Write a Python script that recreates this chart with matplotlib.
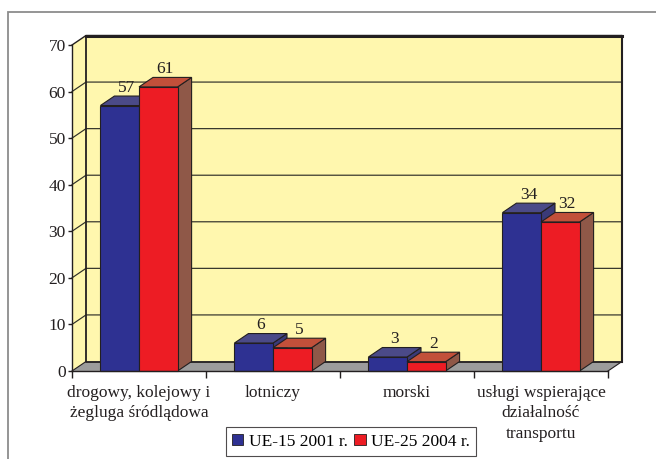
import matplotlib
matplotlib.use("Agg")
import matplotlib.pyplot as plt
from matplotlib.patches import Polygon, Rectangle, Patch

plt.rcParams['font.family'] = ['Liberation Serif', 'DejaVu Serif']

# --- data -------------------------------------------------------------
categories = ["drogowy, kolejowy i\nżegluga śródlądowa",
              "lotniczy",
              "morski",
              "usługi wspierające\ndziałalność\ntransportu"]
series_names = ["UE-15 2001 r.", "UE-25 2004 r."]
ue15_2001 = [57, 6, 3, 34]
ue25_2004 = [61, 5, 2, 32]
y_ticks = [0, 10, 20, 30, 40, 50, 60, 70]

# --- style ------------------------------------------------------------
W, H = 656, 459
front = dict(blue="#2E3192", red="#ED1C24")
top = dict(blue="#4B4A88", red="#C2503A")
side = dict(blue="#3B3A78", red="#8F5848")
wall_c = "#FFF7AE"
floor_c = "#9C9C9C"
edge_c = "#231F20"

fig = plt.figure(figsize=(W / 100, H / 100), dpi=100)

# outer gray frame
fig.add_artist(Rectangle((8 / W, -0.2), 1.5, 1.2 - 12 / H,
                         transform=fig.transFigure, fill=False,
                         edgecolor="#8C8C8C", linewidth=1.3))

# front plane of the 3D box
x0p, x1p, y0p, y1p = 72, 608, 371, 45
ax = fig.add_axes([x0p / W, 1 - y0p / H, (x1p - x0p) / W, (y0p - y1p) / H])
ax.set_xlim(0, 4)
ax.set_ylim(0, 70)
ax.patch.set_visible(False)

# depth offset in data units
DX = 14 / (x1p - x0p) * 4
DY = 9.5 / (y0p - y1p) * 70
YMAX = 70
N = len(categories)


def poly(pts, fc, ec=edge_c, lw=0.8, z=1):
    p = Polygon(pts, closed=True, facecolor=fc, edgecolor=ec,
                linewidth=lw, clip_on=False, zorder=z, joinstyle="miter")
    ax.add_patch(p)


# walls and floor
poly([(DX, DY), (N + DX, DY), (N + DX, YMAX + DY), (DX, YMAX + DY)],
     wall_c, ec="none", z=0.5)
poly([(0, 0), (0, YMAX), (DX, YMAX + DY), (DX, DY)], wall_c, ec="none", z=0.5)
poly([(0, 0), (N, 0), (N + DX, DY), (DX, DY)], floor_c, ec="none", z=0.6)

# gridlines on back and side walls
for v in y_ticks[1:-1]:
    ax.plot([0, DX, N + DX], [v, v + DY, v + DY], color="#2F2F28",
            linewidth=0.85, clip_on=False, zorder=0.7)

# box edges
ax.plot([0, DX, N + DX, N + DX], [YMAX, YMAX + DY, YMAX + DY, DY],
        color=edge_c, linewidth=1.0, clip_on=False, zorder=0.8)
ax.plot([DX, N + DX], [YMAX + DY, YMAX + DY], color=edge_c,
        linewidth=2.2, clip_on=False, zorder=0.8)
ax.plot([N + DX, N + DX], [YMAX + DY, DY], color=edge_c,
        linewidth=1.5, clip_on=False, zorder=0.8)
ax.plot([DX, DX, N + DX], [YMAX + DY, DY, DY], color=edge_c,
        linewidth=1.3, clip_on=False, zorder=0.8)
ax.plot([0, DX], [0, DY], color=edge_c, linewidth=0.8, clip_on=False, zorder=0.8)
ax.plot([N, N + DX], [0, DY], color=edge_c, linewidth=0.8, clip_on=False, zorder=0.8)

# bars
bw = 0.288


def bar3d(x0, v, key, z):
    x1 = x0 + bw
    poly([(x1, 0), (x1 + DX, DY), (x1 + DX, v + DY), (x1, v)], side[key], z=z)
    poly([(x0, v), (x1, v), (x1 + DX, v + DY), (x0 + DX, v + DY)], top[key], z=z)
    poly([(x0, 0), (x1, 0), (x1, v), (x0, v)], front[key], z=z)
    ax.annotate(f"{v}", xy=(x0 + bw / 2 + DX / 2, v + DY), xytext=(0, 0.3),
                textcoords="offset points", ha="center", va="bottom",
                fontsize=12.5, color="#231F20", zorder=5,
                annotation_clip=False)


for i in range(N):
    c = i + 0.5
    bar3d(c - bw, ue15_2001[i], "blue", 2 + i * 0.1)
    bar3d(c, ue25_2004[i], "red", 2.05 + i * 0.1)

# axes, ticks, labels
for s in ("top", "right"):
    ax.spines[s].set_visible(False)
for s in ("left", "bottom"):
    ax.spines[s].set_color(edge_c)
    ax.spines[s].set_linewidth(1.0)
    ax.spines[s].set_zorder(3)

ax.set_yticks(y_ticks)
ax.set_yticklabels([str(t) for t in y_ticks], fontsize=12.5, color="#231F20")
ax.tick_params(axis="y", direction="out", length=3, width=1.0,
               color=edge_c, pad=1.5)

ax.set_xticks(range(N + 1))
ax.set_xticklabels([])
ax.set_xticks([i + 0.5 for i in range(N)], minor=True)
ax.set_xticklabels(categories, minor=True, fontsize=12.5, color="#231F20",
                   linespacing=1.38)
ax.tick_params(axis="x", which="major", direction="out", length=5,
               width=1.0, color=edge_c)
ax.tick_params(axis="x", which="minor", length=0, pad=10)

# legend
handles = [Patch(facecolor=front["blue"], edgecolor=edge_c, linewidth=0.6),
           Patch(facecolor=front["red"], edgecolor=edge_c, linewidth=0.6)]
leg = fig.legend(handles, series_names, loc="center",
                 bbox_to_anchor=(351 / W, 1 - 441.5 / H), ncol=2,
                 fontsize=12.5, frameon=True, fancybox=False,
                 handlelength=0.65, handleheight=0.65, handletextpad=0.3,
                 columnspacing=0.4, borderpad=0.35, borderaxespad=0)
leg.get_frame().set_edgecolor(edge_c)
leg.get_frame().set_linewidth(0.8)
leg.set_zorder(6)

fig.savefig("out.png", dpi=100)
